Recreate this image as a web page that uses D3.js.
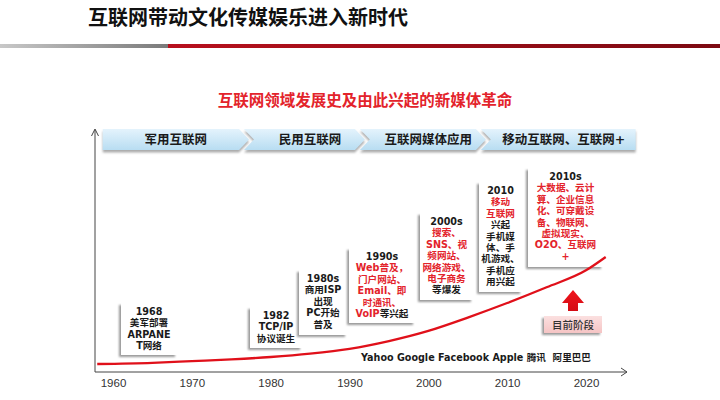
<!DOCTYPE html>
<html>
<head>
<meta charset="utf-8">
<script src="https://cdn.jsdelivr.net/npm/d3@7"></script>
<style>
  body { margin: 0; background: #fff; }
  text { font-family: "DejaVu Sans", "Noto Sans CJK SC", sans-serif; }
</style>
</head>
<body>
<div id="main"></div>
<script>
const ctx = {
    w: 720,
    h: 400,
};

// axe des années
const tickYears = [1960, 1970, 1980, 1990, 2000, 2010, 2020];

// phases (bandeau du haut)
const phaseNames = ["军用互联网", "民用互联网", "互联网媒体应用", "移动互联网、互联网+"];
const phaseStart = [1958.7, 1977.25, 1991.95, 2007.3];
const phaseEnd = [1977.25, 1991.95, 2007.3, 2026.3];

// courbe de croissance (indice)
const curveYears = [1958, 1965, 1970, 1975, 1980, 1985, 1990, 1995, 2000, 2005, 2010, 2015, 2020, 2022.5];
const curveValues = [3.3, 3.8, 4.5, 5.2, 6.2, 7.6, 9.6, 12.8, 17, 22.5, 28.5, 35, 42, 47.5];

// encadrés : {..} = texte en rouge
const eventLines = [
    ["1968", "美军部署", "ARPANE", "T网络"],
    ["1982", "TCP/IP", "协议诞生"],
    ["1980s", "商用ISP", "出现", "PC开始", "普及"],
    ["1990s", "{Web普及，}", "{门户网站、}", "{Email、即}", "{时通讯、}", "{VoIP}等兴起"],
    ["2000s", "{搜索、}", "{SNS、视}", "{频网站、}", "{网络游戏、}", "{电子商务}", "等爆发"],
    ["2010", "{移动}", "{互联网}", "兴起", "手机媒", "体、手", "机游戏、", "手机应", "用兴起"],
    ["2010s", "{大数据、云计}", "{算、企业信息}", "{化、可穿戴设}", "{备、物联网、}", "{虚拟现实、}", "{O2O、互联网}", "{+}"],
];
const companies = "Yahoo Google Facebook Apple 腾讯  阿里巴巴";

// position des encadrés [x, y, largeur, hauteur]
const eventBoxes = [
    [121, 303, 56, 52],
    [250, 307, 52, 41],
    [299, 270, 48, 65],
    [349, 248, 66, 75],
    [420, 213, 53, 87],
    [479, 182, 43, 110],
    [528, 168, 75, 99],
];

const RED = "#e3232b";

function createDefs(svgEl) {
    const defs = svgEl.append("defs");
    const shadow = defs.append("filter").attr("id", "boxShadow")
        .attr("x", "-20%").attr("y", "-20%").attr("width", "140%").attr("height", "140%");
    shadow.append("feDropShadow").attr("dx", -2).attr("dy", 2)
        .attr("stdDeviation", 1.3).attr("flood-color", "#777").attr("flood-opacity", 0.75);
    const bandShadow = defs.append("filter").attr("id", "bandShadow")
        .attr("x", "-5%").attr("y", "-30%").attr("width", "110%").attr("height", "160%");
    bandShadow.append("feDropShadow").attr("dx", 0).attr("dy", 2.5)
        .attr("stdDeviation", 1.2).attr("flood-color", "#888").attr("flood-opacity", 0.7);

    const blue = defs.append("linearGradient").attr("id", "bandGrad")
        .attr("x1", 0).attr("y1", 0).attr("x2", 0).attr("y2", 1);
    blue.append("stop").attr("offset", "0%").attr("stop-color", "#e4f3fc");
    blue.append("stop").attr("offset", "100%").attr("stop-color", "#b8ddf2");

    const grey = defs.append("linearGradient").attr("id", "greyLine");
    grey.append("stop").attr("offset", "0%").attr("stop-color", "#c8c8c8");
    grey.append("stop").attr("offset", "100%").attr("stop-color", "#7a7a7a");
    const red = defs.append("linearGradient").attr("id", "redLine");
    red.append("stop").attr("offset", "0%").attr("stop-color", "#b8101d");
    red.append("stop").attr("offset", "100%").attr("stop-color", "#7c0a12");

    const pink = defs.append("linearGradient").attr("id", "pinkGrad")
        .attr("x1", 0).attr("y1", 0).attr("x2", 0).attr("y2", 1);
    pink.append("stop").attr("offset", "0%").attr("stop-color", "#fbe0e0");
    pink.append("stop").attr("offset", "100%").attr("stop-color", "#f5c4c4");

    const arrowRed = defs.append("linearGradient").attr("id", "arrowGrad")
        .attr("x1", 0).attr("y1", 0).attr("x2", 0).attr("y2", 1);
    arrowRed.append("stop").attr("offset", "0%").attr("stop-color", "#f0141c");
    arrowRed.append("stop").attr("offset", "100%").attr("stop-color", "#d40c14");
}

function createHeader(svgEl) {
    svgEl.append("text")
        .attr("x", 88).attr("y", 25)
        .style("font-family", "'Noto Sans CJK SC'")
        .style("font-weight", 700).style("font-size", "20px").attr("fill", "#111")
        .text("互联网带动文化传媒娱乐进入新时代");
    svgEl.append("rect").attr("x", 0).attr("y", 44).attr("width", 168).attr("height", 4)
        .attr("fill", "url(#greyLine)");
    svgEl.append("rect").attr("x", 168).attr("y", 44).attr("width", ctx.w - 168).attr("height", 4)
        .attr("fill", "url(#redLine)");
    svgEl.append("text")
        .attr("x", 365).attr("y", 106).attr("text-anchor", "middle")
        .style("font-family", "'Noto Sans CJK SC'")
        .style("font-weight", 700).style("font-size", "15.5px").attr("fill", RED)
        .text("互联网领域发展史及由此兴起的新媒体革命");
}

function createChart(svgEl) {
    const x = d3.scaleLinear().domain([1960, 2020]).range([113, 586]);
    const y = d3.scaleLinear().domain([0, 100]).range([372, 130]);
    const axisColor = "#444";

    // bandeau des phases
    const bandTop = 129, bandBot = 150, mid = (bandTop + bandBot) / 2, d = 10;
    const gBand = svgEl.append("g").attr("filter", "url(#bandShadow)");
    phaseNames.forEach((name, i) => {
        const x0 = i === 0 ? x(phaseStart[i]) : x(phaseStart[i]) - d + 5;
        const x1 = x(phaseEnd[i]);
        const last = i === phaseNames.length - 1;
        const pts = [
            [x0, bandTop],
            [last ? x1 : x1 - d, bandTop],
            [x1, last ? bandTop : mid],
            [last ? x1 : x1 - d, bandBot],
            [x0, bandBot],
            [i === 0 ? x0 : x0 + d, mid],
        ];
        gBand.append("path")
            .attr("d", d3.line()(pts) + "Z")
            .attr("fill", "url(#bandGrad)");
    });
    const labelX = phaseNames.map((n, i) => (x(phaseStart[i]) + x(phaseEnd[i])) / 2 + (i === 0 ? 0 : 3));
    svgEl.append("g").selectAll("text")
        .data(phaseNames)
        .join("text")
        .attr("x", (dd, i) => labelX[i])
        .attr("y", mid + 4.5)
        .attr("text-anchor", "middle")
        .style("font-weight", 700).style("font-size", "12.5px")
        .attr("fill", "#1a1a1a")
        .text(dd => dd);

    // axes
    const x0 = 95, xEnd = 627, y0 = 372;
    svgEl.append("line").attr("x1", x0).attr("x2", xEnd).attr("y1", y0).attr("y2", y0)
        .attr("stroke", axisColor).attr("stroke-width", 1);
    svgEl.append("path").attr("d", `M${xEnd - 6},${y0 - 4}L${xEnd},${y0}L${xEnd - 6},${y0 + 4}`)
        .attr("fill", "none").attr("stroke", axisColor).attr("stroke-width", 1);
    svgEl.append("line").attr("x1", x0).attr("x2", x0).attr("y1", y0).attr("y2", 130)
        .attr("stroke", axisColor).attr("stroke-width", 1);
    svgEl.append("path").attr("d", `M${x0 - 3.5},${136}L${x0},${129}L${x0 + 3.5},${136}`)
        .attr("fill", "none").attr("stroke", axisColor).attr("stroke-width", 1);

    const xAxis = d3.axisBottom(x).tickValues(tickYears).tickSize(0).tickPadding(0).tickFormat(d3.format("d"));
    const gx = svgEl.append("g").attr("transform", `translate(0, ${y0 + 15})`).call(xAxis);
    gx.select(".domain").remove();
    gx.selectAll("text")
        .attr("dy", 0)
        .style("font-family", "'Liberation Sans'")
        .style("font-size", "11.5px").attr("fill", "#333");

    // encadrés
    const gBoxes = svgEl.append("g");
    eventLines.forEach((lines, i) => {
        const [bx, by, bw, bh] = eventBoxes[i];
        const g = gBoxes.append("g");
        g.append("rect").attr("x", bx).attr("y", by).attr("width", bw).attr("height", bh)
            .attr("fill", "#fff").attr("filter", "url(#boxShadow)");
        lines.forEach((line, j) => {
            const t = g.append("text")
                .attr("x", bx + bw / 2)
                .attr("y", by + 12 + j * 11.4)
                .attr("text-anchor", "middle")
                .style("font-weight", 700).style("font-size", "9.6px");
            line.split(/(\{[^}]*\})/).filter(s => s.length).forEach(part => {
                const red = part.startsWith("{");
                t.append("tspan")
                    .attr("fill", red ? RED : "#1a1a1a")
                    .text(red ? part.slice(1, -1) : part);
            });
        });
    });

    // courbe
    const line = d3.line()
        .x((dd, i) => x(curveYears[i]))
        .y(dd => y(dd))
        .curve(d3.curveMonotoneX);
    svgEl.append("path")
        .datum(curveValues)
        .attr("d", line)
        .attr("fill", "none")
        .attr("stroke", "#e0101a")
        .attr("stroke-width", 2.3);

    // flèche "目前阶段"
    const ax = 573;
    svgEl.append("path")
        .attr("d", `M${ax},290L${ax + 11},303L${ax + 5},303L${ax + 5},311L${ax - 5},311L${ax - 5},303L${ax - 11},303Z`)
        .attr("fill", "url(#arrowGrad)");
    svgEl.append("rect").attr("x", 544).attr("y", 316).attr("width", 58).attr("height", 17)
        .attr("fill", "url(#pinkGrad)").attr("filter", "url(#boxShadow)");
    svgEl.append("text").attr("x", 573).attr("y", 328.5).attr("text-anchor", "middle")
        .style("font-family", "'Noto Sans CJK SC'")
        .style("font-size", "10.5px").style("font-weight", 500).attr("fill", "#333")
        .text("目前阶段");

    svgEl.append("text").attr("x", 476).attr("y", 361).attr("text-anchor", "middle")
        .style("font-weight", 700).style("font-size", "9.6px").attr("fill", "#1a1a1a")
        .attr("xml:space", "preserve")
        .text(companies);
}

function createViz() {
    const svgEl = d3.select("#main").append("svg")
        .attr("width", ctx.w)
        .attr("height", ctx.h);
    createDefs(svgEl);
    createHeader(svgEl);
    createChart(svgEl);
}

createViz();
</script>
</body>
</html>
